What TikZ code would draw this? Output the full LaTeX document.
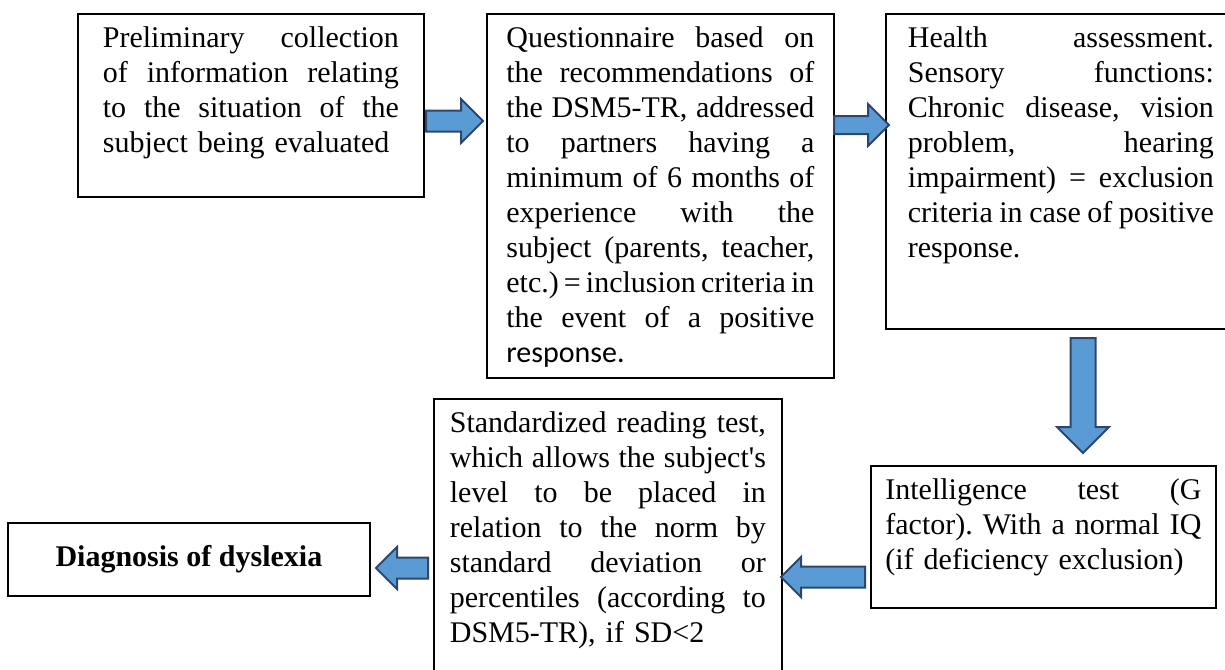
\documentclass[tikz,border=0pt]{standalone}
\usepackage{fontspec}
\setmainfont{Liberation Serif}
\newfontfamily\calibri{Carlito}
\usetikzlibrary{shapes.arrows}
\definecolor{arrowblue}{RGB}{91,155,213}
\definecolor{arrowedge}{RGB}{44,70,110}
\newlength{\linew}
\newcommand{\jline}[1]{\hbox to\linew{\spaceskip=.25em plus 2em minus .15em #1}}

\begin{document}
\begin{tikzpicture}[x=0.5pt,y=-0.5pt,
    stepbox/.style={draw, line width=0.9pt, anchor=north west, inner xsep=4pt, inner ysep=6pt, text height=11pt, text width=#1,
        execute at begin node={\setlength{\linew}{#1}}, font=\fontsize{15}{17.5}\selectfont\frenchspacing},
    endbox/.style={draw, line width=0.9pt, anchor=north west, align=center, font=\fontsize{15}{17.5}\selectfont\bfseries},
    flowarrow/.style={single arrow, draw=arrowedge, fill=arrowblue, line width=1pt, inner xsep=0pt, anchor=tail, single arrow head extend=#1},
    flowarrow/.default=5pt]
    \path[fill=white, use as bounding box] (0,0) rectangle (1225,669);

    \node[stepbox=148pt, minimum width=173pt, text depth=68.5pt] (collect) at (77,13) {%
        \jline{Preliminary collection}
        \jline{of information relating}
        \jline{to the situation of the}
        \hbox{subject being evaluated}};
    \node[stepbox=154pt, minimum width=173.5pt, text depth=159pt] (survey) at (486,13) {%
        \jline{Questionnaire based on}
        \jline{the recommendations of}
        \jline{the DSM5-TR, addressed}
        \jline{to partners having a}
        \jline{minimum of 6 months of}
        \jline{experience with the}
        \jline{subject (parents, teacher,}
        \jline{etc.)\hfil =\hfil inclusion\hfil criteria\hfil in}
        \jline{the event of a positive}
        \hbox{\calibri response.}};
    \node[stepbox=153pt, minimum width=175pt, text depth=134.5pt] (health) at (885,13) {%
        \jline{Health assessment.}
        \jline{Sensory functions:}
        \jline{Chronic disease, vision}
        \jline{problem, hearing}
        \jline{impairment) = exclusion}
        \jline{criteria in case of positive}
        \hbox{response.}};
    \node[stepbox=158pt, minimum width=172.5pt, text depth=48pt] (iqtest) at (870,465) {%
        \jline{Intelligence test (G}
        \jline{factor). With a normal IQ}
        \hbox{(if deficiency exclusion)}};
    \node[stepbox=158pt, minimum width=174pt, text depth=128pt] (reading) at (433,398) {%
        \jline{Standardized reading test,}
        \jline{which allows the subject\textquotesingle s}
        \jline{level to be placed in}
        \jline{relation to the norm by}
        \jline{standard deviation or}
        \jline{percentiles (according to}
        \hbox{DSM5-TR), if SD<2}};
    \node[endbox, minimum width=181pt, minimum height=36.5pt] (diagnosis) at (7,522) {Diagnosis of dyslexia};

    \node[flowarrow=5.75pt, inner ysep=4.75pt, minimum height=28.5pt] (toSurvey) at (425,121) {};
    \node[flowarrow=6pt, inner ysep=4pt, minimum height=27.5pt] (toHealth) at (833,125) {};
    \node[flowarrow=6.75pt, inner ysep=5.75pt, minimum height=57.5pt, rotate=-90] (toIq) at (1083,337) {};
    \node[flowarrow=4.75pt, inner ysep=4.75pt, minimum height=42pt, rotate=180] (toReading) at (866,577) {};
    \node[flowarrow=5.25pt, inner ysep=4.75pt, minimum height=26pt, rotate=180] (toDiagnosis) at (429,568) {};
\end{tikzpicture}
\end{document}
